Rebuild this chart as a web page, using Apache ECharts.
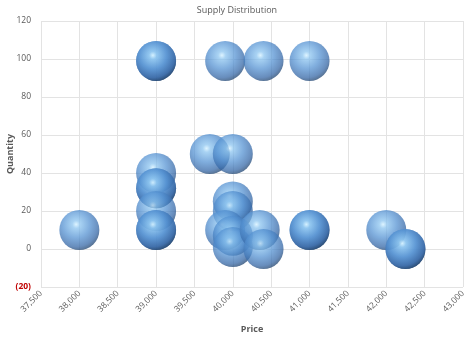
<!DOCTYPE html>
<html>
<head>
<meta charset="utf-8">
<script src="https://cdn.jsdelivr.net/npm/echarts@6/dist/echarts.min.js"></script>
<style>html,body{margin:0;padding:0;background:#fff}#c{width:474px;height:337px}</style>
</head>
<body>
<div id="c"></div>
<script>
var title = 'Supply Distribution';
var xName = 'Price';
var yName = 'Quantity';
var prices =     [38000, 39000, 39000, 39900, 40400, 41000, 39000, 39000, 39000, 39000, 39000, 39000, 39700, 40000, 40000, 40000, 39900, 40000, 40000, 40350, 40400, 41000, 41000, 42000, 42250, 42250];
var quantities = [10,    99,    99,    99,    99,    99,    40,    32,    32,    20,    10,    10,    50,    50,    25,    20,    10,    7,     1,     10,    0,     10,    10,    10,    0,     0];
var xMin = 37500, xMax = 43000, xStep = 500;
var yMin = -20, yMax = 120, yStep = 20;

var data = prices.map(function (p, i) { return [p, quantities[i]]; });

var sphere = {
  type: 'radial', x: 0.42, y: 0.36, r: 0.68,
  colorStops: [
    { offset: 0, color: '#d2f0ff' },
    { offset: 0.14, color: '#8cc4ef' },
    { offset: 0.5, color: '#5592d2' },
    { offset: 0.82, color: '#3567a6' },
    { offset: 1, color: '#1a3b62' }
  ]
};

var chart = echarts.init(document.getElementById('c'));
chart.setOption({
  animation: false,
  title: {
    text: title, left: 'center', top: 1,
    textStyle: { fontFamily: 'Open Sans', fontSize: 9, fontWeight: 'normal', color: '#595959' }
  },
  grid: { left: 41, right: 11, top: 21, bottom: 50, containLabel: false, outerBoundsMode: 'none' },
  xAxis: {
    type: 'value', min: xMin, max: xMax, interval: xStep,
    name: xName, nameLocation: 'middle', nameGap: 38,
    nameTextStyle: { fontFamily: 'Open Sans', fontSize: 9, fontWeight: 'bold', color: '#595959' },
    axisLine: { show: false }, axisTick: { show: false },
    axisLabel: {
      rotate: 45, fontFamily: 'Open Sans', fontSize: 8.5, color: '#595959', margin: 5,
      formatter: function (v) { return v.toLocaleString('en-US'); }
    },
    splitLine: { show: true, lineStyle: { color: '#e3e3e3', width: 1 } }
  },
  yAxis: {
    type: 'value', min: yMin, max: yMax, interval: yStep,
    name: yName, nameLocation: 'middle', nameGap: 26, nameRotate: 90, nameMoveOverlap: false,
    nameTextStyle: { fontFamily: 'Open Sans', fontSize: 9, fontWeight: 'bold', color: '#595959' },
    axisLine: { show: false }, axisTick: { show: false },
    axisLabel: {
      fontFamily: 'Open Sans', fontSize: 8.5, color: '#595959', margin: 10,
      formatter: function (v) { return v < 0 ? '{neg|(' + Math.abs(v) + ')}' : String(v); },
      rich: { neg: { color: '#c00000', fontFamily: 'Open Sans', fontSize: 8.5, fontWeight: 'bold' } }
    },
    splitLine: { show: true, lineStyle: { color: '#e3e3e3', width: 1 } }
  },
  series: [{
    type: 'scatter',
    data: data,
    symbolSize: 40,
    itemStyle: { color: sphere, opacity: 0.75 }
  }]
});
</script>
</body>
</html>
